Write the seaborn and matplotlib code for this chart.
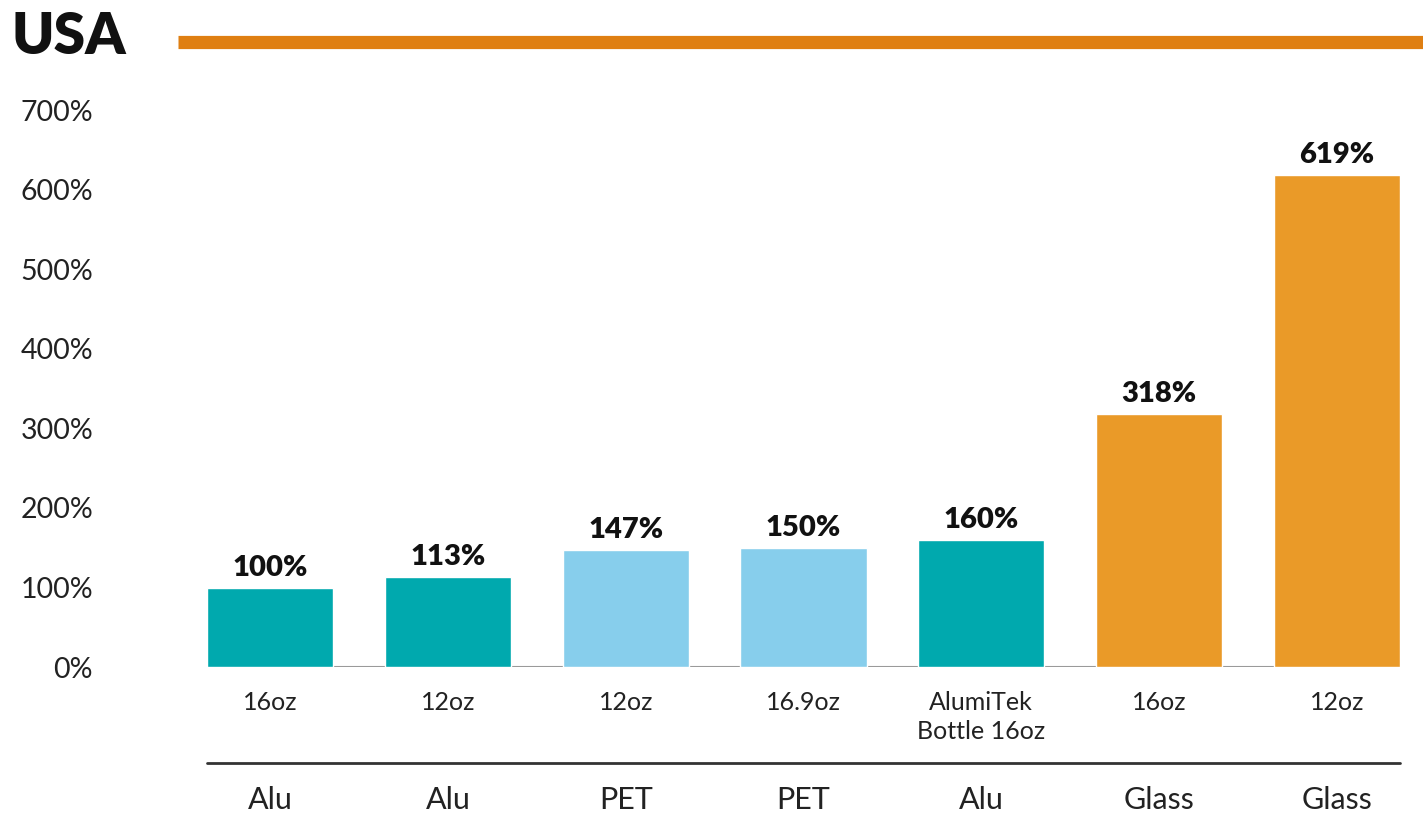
import matplotlib

matplotlib.use("Agg")
import matplotlib.pyplot as plt
import matplotlib.transforms as mtransforms
from matplotlib.lines import Line2D
import pandas as pd
import seaborn as sns

# chart data
sizes = ["16oz", "12oz", "12oz", "16.9oz", "AlumiTek\nBottle 16oz", "16oz", "12oz"]
materials = ["Alu", "Alu", "PET", "PET", "Alu", "Glass", "Glass"]
values = [100, 113, 147, 150, 160, 318, 619]
y_ticks = [0, 100, 200, 300, 400, 500, 600, 700]
title = "USA"

material_colors = {"Alu": "#00A9AE", "PET": "#87CEEC", "Glass": "#EA9A28"}

sns.set_theme(style="white")
plt.rcParams["font.family"] = ["Lato", "DejaVu Sans"]

frame = pd.DataFrame({"pos": range(len(values)), "value": values, "material": materials})

fig = plt.figure(figsize=(14.23, 8.15), dpi=100)
ax = fig.add_axes([207 / 1423, 148 / 815, (1400 - 207) / 1423, 556.5 / 815])

sns.barplot(
    data=frame, x="pos", y="value", hue="material", palette=material_colors,
    dodge=False, width=0.71, legend=False, ax=ax, saturation=1,
)
ax.set_xlim(-0.355, len(values) - 1 + 0.355)
ax.set_ylim(0, 700)
ax.set(xlabel="", ylabel="")

ax.set_yticks(y_ticks)
ax.set_yticklabels([f"{v}%" for v in y_ticks], fontsize=20.5, color="#222222")
ax.set_xticks(range(len(sizes)))
ax.set_xticklabels(sizes, fontsize=18, color="#222222", linespacing=1.35)
ax.tick_params(axis="y", length=0, pad=82)
ax.tick_params(axis="x", length=0, pad=17)
for spine in ax.spines.values():
    spine.set_visible(False)
ax.axhline(0, color="#9a9a9a", lw=1.5, zorder=0)

for container in ax.containers:
    ax.bar_label(
        container, labels=[f"{bar.get_height():.0f}%" for bar in container],
        padding=5, fontsize=21, fontweight="heavy", color="#111111",
    )

# material row under the bars
trans = mtransforms.blended_transform_factory(ax.transData, ax.transAxes)
ax.plot([0, 1], [-0.1725, -0.1725], transform=ax.transAxes, color="#333333", lw=2, clip_on=False)
for pos, material in enumerate(materials):
    ax.text(pos, -0.239, material, transform=trans, ha="center", va="center",
            fontsize=22, color="#222222")

# header
fig.text(12 / 1423, 1 - 37 / 815, title, fontsize=41, fontweight="heavy",
         color="#111111", va="center", ha="left")
fig.add_artist(Line2D([178 / 1423, 1.0], [1 - 42 / 815, 1 - 42 / 815],
                      transform=fig.transFigure, color="#DF7F12", lw=9.5,
                      solid_capstyle="butt"))

fig.savefig("out.png", dpi=100)
